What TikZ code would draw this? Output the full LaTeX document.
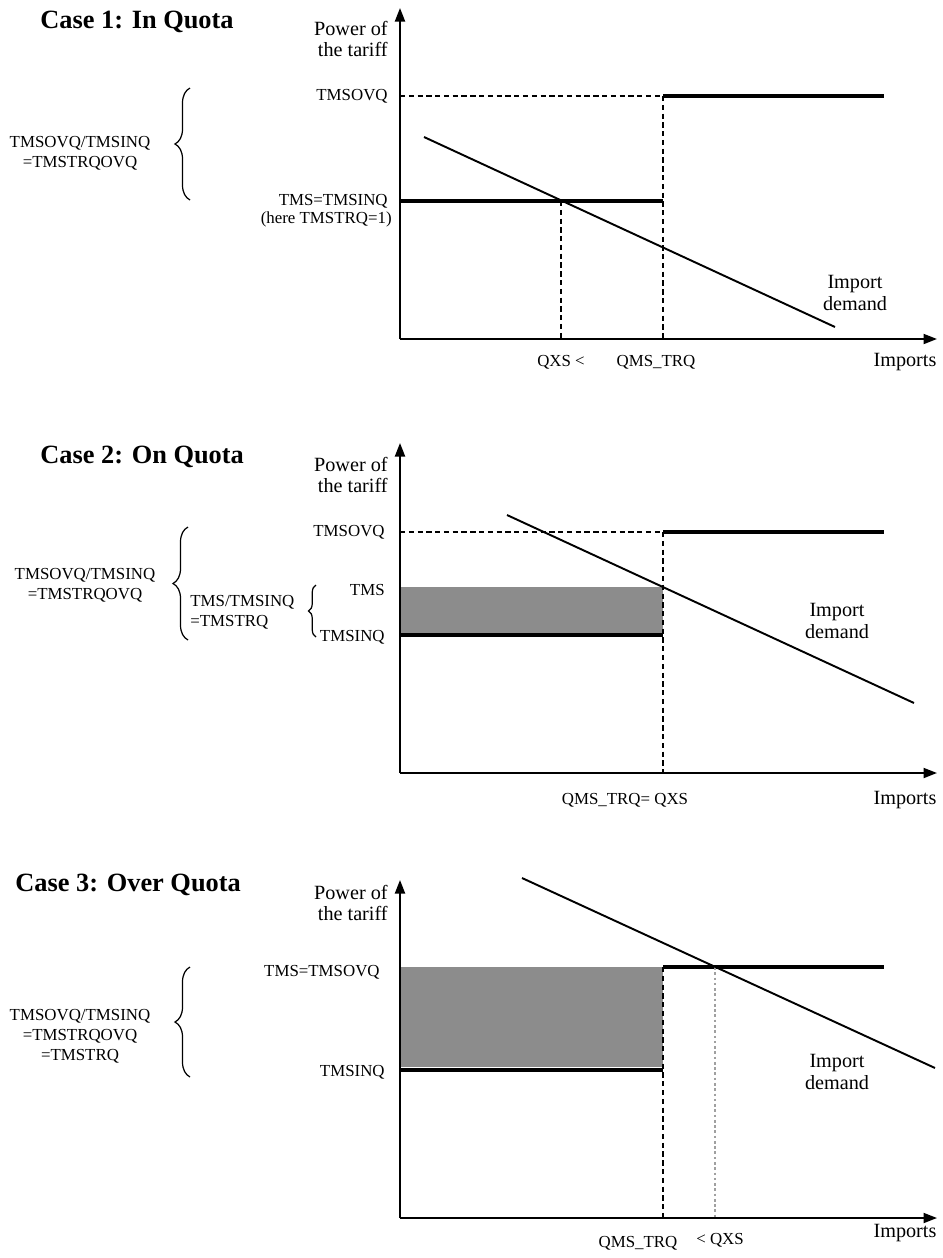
\documentclass[tikz,border=0pt]{standalone}
\usepackage{fontspec}
\setmainfont{Liberation Serif}
\usetikzlibrary{arrows.meta,decorations.pathreplacing}
\definecolor{boxgray}{RGB}{140,140,140}
\definecolor{dotgray}{RGB}{160,160,160}
\begin{document}
\begin{tikzpicture}[x=0.02cm,y=-0.02cm,
  axisln/.style={line width=1.1pt,-{Triangle[length=0.27cm,width=0.2cm]}},
  thickln/.style={line width=2.8pt},
  demand/.style={line width=1.1pt},
  guide/.style={line width=0.9pt,dash pattern=on 3pt off 2pt},
  lightguide/.style={line width=0.7pt,dotgray,dash pattern=on 1.5pt off 1.5pt},
  grayarea/.style={fill=boxgray,draw=none},
  lbl/.style={font=\fontsize{9.6}{11.5}\selectfont,inner sep=0pt},
  biglbl/.style={font=\fontsize{11.5}{12}\selectfont,inner sep=0pt},
  ttl/.style={font=\fontsize{15}{18}\selectfont\bfseries,inner sep=0pt,anchor=west},
  bigbrace/.style={decorate,decoration={brace,amplitude=0.3cm},line width=0.7pt},
  smallbrace/.style={decorate,decoration={brace,amplitude=0.15cm},line width=0.7pt}]
\useasboundingbox (0,0) rectangle (943,1258);

%%%%%%%%%%%%%%%% Case 1
\node[ttl] (t1) at (40,22) {Case 1: In Quota};
\coordinate (o1) at (400,339);
\coordinate (y1) at (400,8);
\coordinate (x1) at (937,339);
\draw[axisln] (o1) -- (y1);
\draw[axisln] (o1) -- (x1);
\node[biglbl,anchor=east,align=right] (p1) at (388,39) {Power of\\the tariff};
\node[lbl,anchor=east] (ov1) at (388,96) {TMSOVQ};
\node[lbl,anchor=east] (in1) at (388,201) {TMS=TMSINQ};
\node[lbl,anchor=east] (hr1) at (392,219) {(here TMSTRQ=1)};
\coordinate (a1) at (400,96);
\coordinate (b1) at (663,96);
\coordinate (c1) at (884,96);
\coordinate (d1) at (400,201);
\coordinate (e1) at (663,201);
\coordinate (f1) at (561,201);
\coordinate (g1) at (561,339);
\coordinate (h1) at (663,339);
\draw[guide] (a1) -- (b1);
\draw[guide] (b1) -- (h1);
\draw[guide] (f1) -- (g1);
\draw[thickln] (b1) -- (c1);
\draw[thickln] (d1) -- (e1);
\coordinate (ds1) at (424,137);
\coordinate (de1) at (835,327);
\draw[demand] (ds1) -- (de1);
\node[biglbl,align=center] (id1) at (855,293) {Import\\demand};
\node[lbl] (q1a) at (561,362) {QXS <};
\node[lbl] (q1b) at (656,362) {QMS\_TRQ};
\node[biglbl] (im1) at (905,362) {Imports};
\draw[bigbrace] (190,200) -- (190,88);
\node[lbl,align=center] (r1) at (80,153) {TMSOVQ/TMSINQ\\=TMSTRQOVQ};

%%%%%%%%%%%%%%%% Case 2
\node[ttl] (t2) at (40,457) {Case 2: On Quota};
\coordinate (o2) at (400,773);
\coordinate (y2) at (400,443);
\coordinate (x2) at (937,773);
\path[grayarea] (400,587) rectangle (663,633);
\draw[axisln] (o2) -- (y2);
\draw[axisln] (o2) -- (x2);
\node[biglbl,anchor=east,align=right] (p2) at (388,475) {Power of\\the tariff};
\node[lbl,anchor=east] (ov2) at (385,532) {TMSOVQ};
\node[lbl,anchor=east] (tm2) at (385,590) {TMS};
\node[lbl,anchor=east] (in2) at (385,637) {TMSINQ};
\coordinate (a2) at (400,532);
\coordinate (b2) at (663,532);
\coordinate (c2) at (884,532);
\coordinate (d2) at (400,635);
\coordinate (e2) at (663,635);
\coordinate (h2) at (663,773);
\draw[guide] (a2) -- (b2);
\draw[guide] (b2) -- (h2);
\draw[thickln] (b2) -- (c2);
\draw[thickln] (d2) -- (e2);
\coordinate (ds2) at (507,515);
\coordinate (de2) at (914,703);
\draw[demand] (ds2) -- (de2);
\node[biglbl,align=center] (id2) at (837,621) {Import\\demand};
\node[lbl] (q2) at (625,800) {QMS\_TRQ= QXS};
\node[biglbl] (im2) at (905,800) {Imports};
\draw[bigbrace] (188,640) -- (188,527);
\node[lbl,align=center] (r2) at (85,585) {TMSOVQ/TMSINQ\\=TMSTRQOVQ};
\draw[smallbrace] (316,637) -- (316,585);
\node[lbl,anchor=west,align=left] (s2) at (190,612) {TMS/TMSINQ\\=TMSTRQ};

%%%%%%%%%%%%%%%% Case 3
\node[ttl] (t3) at (15,885) {Case 3: Over Quota};
\coordinate (o3) at (400,1218);
\coordinate (y3) at (400,880);
\coordinate (x3) at (937,1218);
\path[grayarea] (400,967) rectangle (663,1067);
\draw[axisln] (o3) -- (y3);
\draw[axisln] (o3) -- (x3);
\node[biglbl,anchor=east,align=right] (p3) at (388,903) {Power of\\the tariff};
\node[lbl,anchor=east] (ov3) at (380,972) {TMS=TMSOVQ};
\node[lbl,anchor=east] (in3) at (385,1072) {TMSINQ};
\coordinate (b3) at (663,967);
\coordinate (c3) at (884,967);
\coordinate (d3) at (400,1070);
\coordinate (e3) at (663,1070);
\coordinate (h3) at (663,1218);
\coordinate (k3) at (715,967);
\coordinate (m3) at (715,1218);
\draw[guide] (b3) -- (h3);
\draw[thickln] (b3) -- (c3);
\draw[thickln] (d3) -- (e3);
\draw[lightguide] (k3) -- (m3);
\coordinate (ds3) at (522,878);
\coordinate (de3) at (935,1068);
\draw[demand] (ds3) -- (de3);
\node[biglbl,align=center] (id3) at (837,1072) {Import\\demand};
\node[lbl] (q3a) at (638,1243) {QMS\_TRQ};
\node[lbl] (q3b) at (720,1240) {< QXS};
\node[biglbl] (im3) at (905,1233) {Imports};
\draw[bigbrace] (190,1077) -- (190,967);
\node[lbl,align=center] (r3) at (80,1036) {TMSOVQ/TMSINQ\\=TMSTRQOVQ\\=TMSTRQ};
\end{tikzpicture}
\end{document}
